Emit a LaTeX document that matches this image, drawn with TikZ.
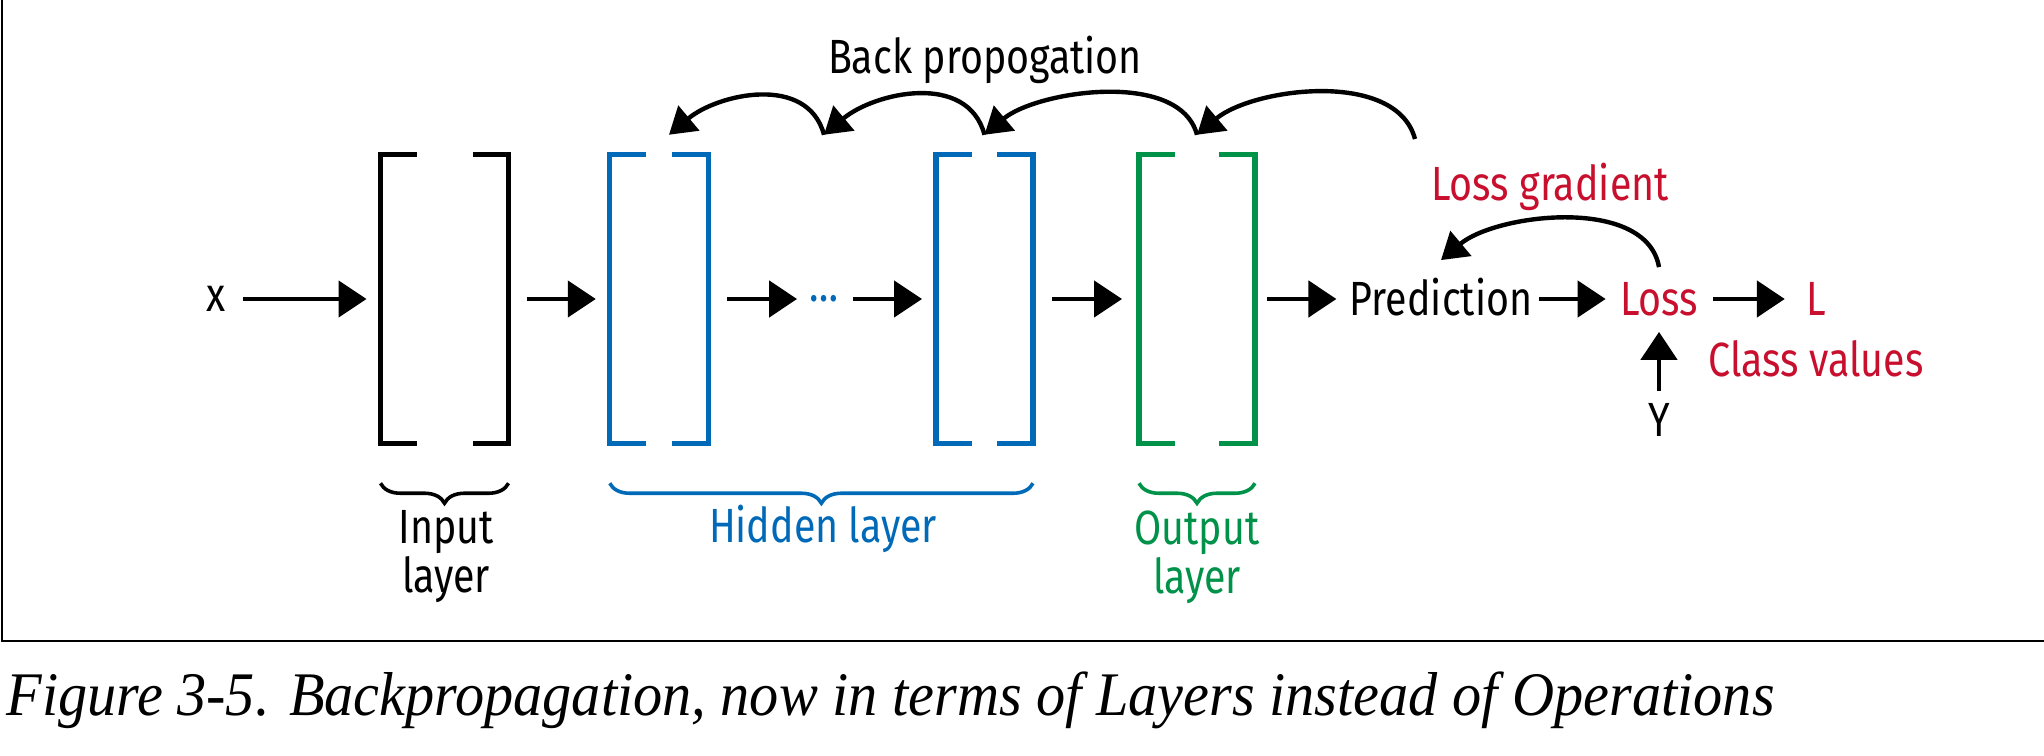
\documentclass[tikz,border=0pt]{standalone}
\usepackage{fontspec}
\setmainfont{Fira Sans}[FakeStretch=0.82]
\newfontfamily\capfont{Liberation Serif}[FakeStretch=0.94]
\usetikzlibrary{arrows.meta,decorations.pathreplacing,positioning}
\definecolor{hidblue}{RGB}{0,106,184}
\definecolor{outgreen}{RGB}{0,146,72}
\definecolor{lossred}{RGB}{200,16,46}
\tikzset{
  layer/.style={minimum width=#1, minimum height=144.25pt, inner sep=0pt, outer sep=0pt},
  lbl/.style={font=\fontsize{24}{26.5}\selectfont, inner sep=0pt, text height=16.5pt, text depth=0pt},
  lname/.style={font=\fontsize{24}{24.5}\selectfont, inner sep=0pt, align=center},
  fwd/.style={line width=2.4pt, -{Triangle[length=14pt,width=18pt]}},
  bwd/.style={line width=2.2pt, -{Triangle[length=13pt,width=16pt]}},
  lbrace/.style={decorate, decoration={brace, mirror, amplitude=10pt}, line width=1.8pt},
}
% the two square brackets of a layer
\newcommand\layerbrackets[2]{%
  \draw[line width=2.6pt, #2] ([xshift=18pt]#1.north west) -| (#1.south west) -- ++(18pt,0);
  \draw[line width=2.6pt, #2] ([xshift=-18pt]#1.north east) -| (#1.south east) -- ++(-18pt,0);
}
\begin{document}
\begin{tikzpicture}[x=0.5pt, y=0.5pt, line join=miter]
  \useasboundingbox (0,0) rectangle (2044,755);
  \def\rowy{456}
  % frame
  \draw[line width=1pt] (1.5,755) -- (1.5,114) -- (2044,114);
  % layers
  \node[layer=64pt] (inl) at (444.5,\rowy) {};
  \node[layer=49.25pt] (hida) at (659,\rowy) {};
  \node[layer=48.5pt] (hidb) at (984.5,\rowy) {};
  \node[layer=58pt] (outl) at (1197,\rowy) {};
  \layerbrackets{inl}{black}
  \layerbrackets{hida}{hidblue}
  \layerbrackets{hidb}{hidblue}
  \layerbrackets{outl}{outgreen}
  % texts
  \node[lbl, text height=12.7pt] (xin) at (216,\rowy) {x};
  \node[lbl, text=hidblue, text height=2.9pt] (dots) at (824,\rowy) {…};
  \node[lbl] (pred) at (1441,\rowy) {Prediction};
  \node[lbl, text=lossred] (loss) at (1659,\rowy) {Loss};
  \node[lbl, text=lossred] (lout) at (1816,\rowy) {L};
  \node[lbl, text=lossred] (cls) at (1816,395) {Class values};
  \node[lbl] (yin) at (1659,335) {Y};
  \node[lbl, text=lossred] (lgrad) at (1550,571) {Loss gradient};
  \node[lbl] (bp) at (985,698) {Back propogation};
  % forward arrows
  \draw[fwd, shorten <=8.5pt, shorten >=7pt] (xin) -- (inl);
  \draw[fwd, shorten <=9pt, shorten >=7pt] (inl) -- (hida);
  \draw[fwd, shorten <=9.5pt, shorten >=6pt] (hida) -- (dots);
  \draw[fwd, shorten <=7pt, shorten >=7pt] (dots) -- (hidb);
  \draw[fwd, shorten <=9.5pt, shorten >=8.5pt] (hidb) -- (outl);
  \draw[fwd, shorten <=6pt, shorten >=6.5pt] (outl) -- (pred);
  \draw[fwd, shorten <=3pt, shorten >=7pt] (pred) -- (loss);
  \draw[fwd, shorten <=7.5pt, shorten >=10.5pt] (loss) -- (lout);
  \draw[fwd, shorten <=6pt, shorten >=8pt] (yin) -- (loss);
  % backward arcs
  \draw[bwd] ([yshift=7.5pt]loss.north) to[out=100,in=40,looseness=0.85] ([yshift=11pt]pred.north);
  \coordinate (bpstart) at (1415,616);
  \coordinate (bpout) at ([yshift=10pt]outl.north);
  \coordinate (bphidb) at ([yshift=10pt]hidb.north);
  \coordinate (bpmid) at (dots |- bphidb);
  \coordinate (bphida) at ([xshift=5pt,yshift=10pt]hida.north);
  \draw[bwd] (bpstart) to[out=105,in=40,looseness=0.85] (bpout);
  \draw[bwd] (bpout) to[out=105,in=40,looseness=0.82] (bphidb);
  \draw[bwd] (bphidb) to[out=105,in=40,looseness=1.05] (bpmid);
  \draw[bwd] (bpmid) to[out=105,in=40,looseness=1.05] (bphida);
  % braces and layer names
  \draw[lbrace] ([yshift=-20pt]inl.south west) -- ([yshift=-20pt]inl.south east);
  \draw[lbrace, hidblue] ([yshift=-20pt]hida.south west) -- ([yshift=-20pt]hidb.south east);
  \draw[lbrace, outgreen] ([yshift=-20pt]outl.south west) -- ([yshift=-20pt]outl.south east);
  \node[lname, anchor=north] (inname) at (446,245) {Input\\layer};
  \node[lname, anchor=base, text=hidblue] (hidname) at (823,212) {Hidden layer};
  \node[lname, anchor=north, text=outgreen] (outname) at (1197,245) {Output\\layer};
  % caption
  \node[anchor=base west, inner sep=0pt, font=\capfont\itshape\fontsize{31}{34}\selectfont] (caption) at (6,40) {Figure 3-5. Backpropagation, now in terms of Layers instead of Operations};
\end{tikzpicture}
\end{document}
